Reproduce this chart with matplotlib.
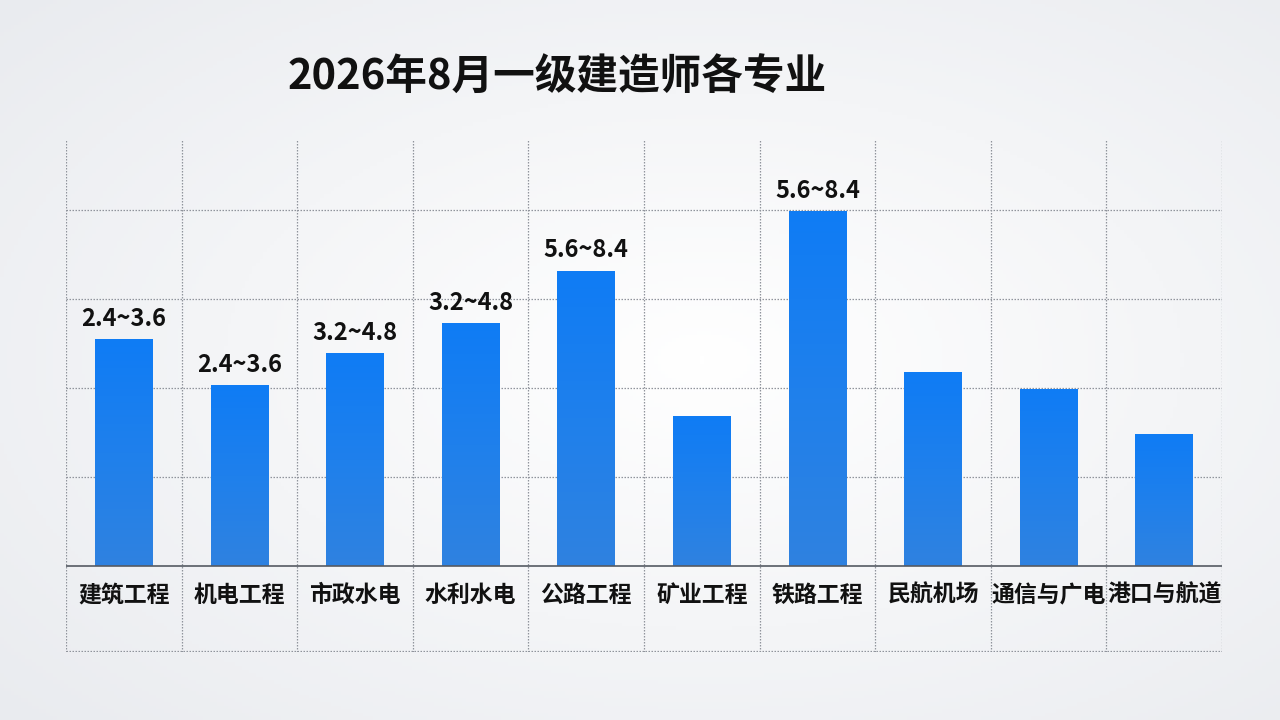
import matplotlib
matplotlib.use("Agg")
import matplotlib.pyplot as plt
import numpy as np
from matplotlib.colors import LinearSegmentedColormap

plt.rcParams['font.family'] = ['Noto Sans CJK SC', 'DejaVu Sans']

title = "2026年8月一级建造师各专业"
categories = ["建筑工程", "机电工程", "市政水电", "水利水电", "公路工程",
              "矿业工程", "铁路工程", "民航机场", "通信与广电", "港口与航道"]
values = [2.55, 2.03, 2.39, 2.73, 3.32, 1.68, 3.99, 2.18, 1.99, 1.48]
labels = ["2.4~3.6", "2.4~3.6", "3.2~4.8", "3.2~4.8", "5.6~8.4",
          "", "5.6~8.4", "", "", ""]
grid_levels = [1, 2, 3, 4]

W, H = 1280, 720
fig = plt.figure(figsize=(W / 100, H / 100), dpi=100)

# background radial gradient
bg = fig.add_axes([0, 0, 1, 1], zorder=0)
yy, xx = np.mgrid[0:1:200j, 0:1:360j]
r = np.sqrt(((xx - 0.55) / 0.75) ** 2 + ((yy - 0.5) / 0.75) ** 2)
bgcmap = LinearSegmentedColormap.from_list("bg", ["#ffffff", "#f4f5f7", "#e9ebef"])
bg.imshow(r, cmap=bgcmap, aspect="auto", extent=[0, 1, 0, 1], vmin=0, vmax=1)
bg.set_axis_off()

# axes region in pixels: x 66..1222, y 140..652 (top-origin)
x0, x1 = 66, 1222
ytop, ybot = 140, 652
ax = fig.add_axes([x0 / W, 1 - ybot / H, (x1 - x0) / W, (ybot - ytop) / H], zorder=1)
ax.patch.set_alpha(0)

unit = 89.0
base = 566
ylo = -(ybot - base) / unit
yhi = (base - ytop) / unit

gridkw = dict(color="#90949c", linewidth=0.9, linestyle=(0, (1.2, 1.2)), zorder=1)
for lvl in grid_levels:
    ax.axhline(lvl, **gridkw)
for i in range(len(categories) + 1):
    ax.axvline(i - 0.5, **gridkw)
ax.axhline(ylo + 0.006, **gridkw)

for s in ax.spines.values():
    s.set_visible(False)
ax.set_xticks([])
ax.set_yticks([])

x = np.arange(len(categories))
bars = ax.bar(x, values, width=0.5, color="#1a7ef0", zorder=3)

grad = LinearSegmentedColormap.from_list("bar", ["#2f82e0", "#1f80ec", "#0f7cf5"])
gimg = np.linspace(0, 1, 256).reshape(-1, 1)
for b in bars:
    bx, by, bw, bh = b.get_x(), b.get_y(), b.get_width(), b.get_height()
    im = ax.imshow(gimg, cmap=grad, origin="lower", aspect="auto",
                   extent=[bx, bx + bw, by, by + bh], zorder=4)
    im.set_clip_path(b)

ax.set_xlim(-0.5, len(categories) - 0.5)
ax.set_ylim(ylo, yhi)

ax.axhline(0, color="#555a62", linewidth=1.2, zorder=5)

for xi, v, lab in zip(x, values, labels):
    if lab:
        ax.annotate(lab, (xi, v), xytext=(0, 6), textcoords="offset points",
                    ha="center", va="bottom", fontsize=17, fontweight="bold",
                    color="#111111", zorder=6)

for xi, cat in zip(x, categories):
    ax.text(xi, -0.33, cat, ha="center", va="center", fontsize=16.5,
            fontweight="bold", color="#111111", zorder=6)

fig.text(288 / W, 1 - 78 / H, title, ha="left", va="center", fontsize=30,
         fontweight="bold", color="#111111")

fig.savefig("out.png", dpi=100)
